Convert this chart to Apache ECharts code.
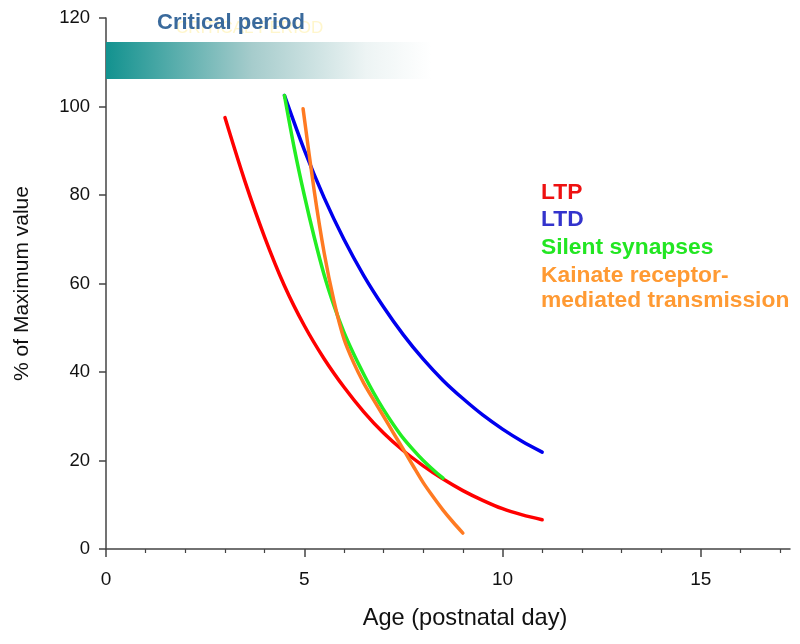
<!DOCTYPE html>
<html>
<head>
<meta charset="utf-8">
<script src="https://cdn.jsdelivr.net/npm/echarts@6/dist/echarts.min.js"></script>
<style>html,body{margin:0;padding:0;background:#fff}#c{width:800px;height:644px}</style>
</head>
<body>
<div id="c"></div>
<script>
// ---- data ----
var ltpX = [3, 3.5, 4, 4.5, 5, 5.5, 6, 6.5, 7, 7.5, 8, 8.5, 9, 9.5, 10, 10.5, 11];
var ltpY = [97.5, 83.2, 70.5, 59.5, 50.5, 43, 36.6, 31, 26.2, 22.2, 18.8, 15.8, 13.2, 11, 9.1, 7.7, 6.6];
var ltdX = [4.5, 5, 5.5, 6, 6.5, 7, 7.5, 8, 8.5, 9, 9.5, 10, 10.5, 11];
var ltdY = [102.5, 90.2, 79.4, 70, 61.8, 54.7, 48.4, 42.9, 38.1, 34, 30.3, 27.1, 24.3, 21.9];
var silentX = [4.5, 4.75, 5, 5.25, 5.5, 5.75, 6, 6.25, 6.5, 6.75, 7, 7.25, 7.5, 7.75, 8, 8.25, 8.5];
var silentY = [102.5, 90.5, 80, 70.5, 62, 55, 49, 44, 39.5, 35.3, 31.5, 28.1, 25, 22.4, 20, 17.9, 16];
var kainateX = [4.97, 5.25, 5.5, 5.75, 6, 6.25, 6.5, 6.75, 7, 7.25, 7.5, 7.75, 8, 8.25, 8.5, 8.75, 9];
var kainateY = [99.5, 81, 67, 56, 47.5, 42, 37.5, 33.7, 30, 26.2, 22.5, 18.7, 15, 11.8, 8.8, 6.1, 3.6];
var criticalPeriod = [0, 8.2];      // x-range of shaded bar (fades out)
var criticalBand = [106.2, 114.6];  // y-range of shaded bar
var seriesNames = ['LTP', 'LTD', 'Silent synapses', 'Kainate receptor-mediated transmission'];
var legendLines = ['LTP', 'LTD', 'Silent synapses', 'Kainate receptor-', 'mediated transmission'];
var xLabelTicks = [0, 5, 10, 15];
var xMinorTicks = [1, 2, 3, 4, 6, 7, 8, 9, 11, 12, 13, 14, 16, 17];
var titleText = 'Critical period';
var ghostText = 'CRITICAL PERIOD';
var xName = 'Age (postnatal day)';
var yName = '% of Maximum value';

function pairs(xs, ys) { return xs.map(function (x, i) { return [x, ys[i]]; }); }

var FONT = 'Liberation Sans, Arial, sans-serif';
var AX = '#444';
var lineColors = ['#ff0000', '#0000ee', '#22ee22', '#ff7a22'];
var legendColors = ['#ee1111', '#3333cc', '#22e622', '#ff9a33', '#ff9a33'];

var chart = echarts.init(document.getElementById('c'));

var series = [
  [ltpX, ltpY], [ltdX, ltdY], [silentX, silentY], [kainateX, kainateY]
].map(function (d, i) {
  return {
    name: seriesNames[i], type: 'line', smooth: 0.3, showSymbol: false,
    data: pairs(d[0], d[1]), z: 3 + i,
    lineStyle: { color: lineColors[i], width: 3.5, cap: 'round', join: 'round' },
    itemStyle: { color: lineColors[i] }
  };
});
// shaded critical period bar
series.unshift({
  type: 'line', data: [], silent: true, z: 1,
  markArea: {
    silent: true,
    itemStyle: {
      color: new echarts.graphic.LinearGradient(0, 0, 1, 0, [
        { offset: 0, color: '#12928f' },
        { offset: 0.45, color: '#a6cccc' },
        { offset: 0.8, color: '#edf4f4' },
        { offset: 1, color: '#ffffff' }
      ])
    },
    data: [[{ coord: [criticalPeriod[0], criticalBand[0]] }, { coord: [criticalPeriod[1], criticalBand[1]] }]]
  }
});

var graphics = [
  { type: 'text', left: 176, top: 20, z: 0, style: { text: ghostText, fill: '#fff6cc', font: '17px ' + FONT } },
  { type: 'text', left: 157, top: 12, z: 10, style: { text: titleText, fill: '#3a6a9c', font: 'bold 22px ' + FONT } }
];
var legendY = [181, 208, 236, 264, 289];
legendLines.forEach(function (t, i) {
  graphics.push({ type: 'text', left: 541, top: legendY[i], z: 10,
    style: { text: t, fill: legendColors[i], font: 'bold 22.8px ' + FONT } });
});

chart.setOption({
  animation: false,
  backgroundColor: '#fff',
  grid: { left: 106, right: 10, top: 18, bottom: 95, containLabel: false },
  xAxis: [{
    type: 'value', min: 0, max: 17.25, position: 'bottom',
    name: xName, nameLocation: 'middle', nameGap: 57,
    nameTextStyle: { fontFamily: FONT, fontSize: 23.6, color: '#111', padding: [0, 0, 0, 34] },
    axisLine: { show: true, onZero: false, lineStyle: { color: AX, width: 1.5 } },
    axisTick: { show: true, length: 4, customValues: xMinorTicks, lineStyle: { color: AX, width: 1.2 } },
    axisLabel: { customValues: xLabelTicks, fontFamily: FONT, fontSize: 19, color: '#111', margin: 21 },
    splitLine: { show: false }
  }, {
    type: 'value', min: 0, max: 17.25, position: 'bottom',
    axisLine: { show: false, onZero: false },
    axisTick: { show: true, length: 8, customValues: xLabelTicks, lineStyle: { color: AX, width: 1.5 } },
    axisLabel: { show: false },
    splitLine: { show: false }
  }],
  yAxis: {
    type: 'value', min: 0, max: 120, interval: 20,
    name: yName, nameLocation: 'middle', nameGap: 73, nameRotate: 90,
    nameTextStyle: { fontFamily: FONT, fontSize: 21, color: '#111' },
    axisLine: { show: true, lineStyle: { color: AX, width: 1.5 } },
    axisTick: { show: true, length: 7, lineStyle: { color: AX, width: 1.5 } },
    axisLabel: { fontFamily: FONT, fontSize: 18.5, color: '#111', margin: 16 },
    splitLine: { show: false }
  },
  series: series,
  graphic: graphics
});
</script>
</body>
</html>
